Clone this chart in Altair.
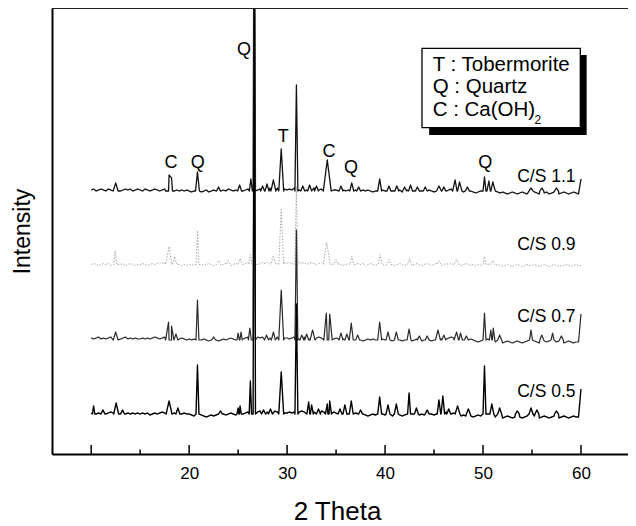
import altair as alt
import pandas as pd

FONT = "Liberation Sans"

# 2-theta sampling of the background (degrees)
GRID = [10.0, 10.25, 10.5, 10.75, 11.0, 11.25, 11.5, 11.75, 12.0, 12.25, 12.5, 12.75, 13.0, 13.25, 13.5, 13.75, 14.0, 14.25, 14.5, 14.75,
        15.0, 15.25, 15.5, 15.75, 16.0, 16.25, 16.5, 16.75, 17.0, 17.25, 17.5, 17.75, 18.0, 18.25, 18.5, 18.75, 19.0, 19.25, 19.5, 19.75,
        20.0, 20.25, 20.5, 20.75, 21.0, 21.25, 21.5, 21.75, 22.0, 22.25, 22.5, 22.75, 23.0, 23.25, 23.5, 23.75, 24.0, 24.25, 24.5, 24.75,
        25.0, 25.25, 25.5, 25.75, 26.0, 26.25, 26.5, 26.75, 27.0, 27.25, 27.5, 27.75, 28.0, 28.25, 28.5, 28.75, 29.0, 29.25, 29.5, 29.75,
        30.0, 30.25, 30.5, 30.75, 31.0, 31.25, 31.5, 31.75, 32.0, 32.25, 32.5, 32.75, 33.0, 33.25, 33.5, 33.75, 34.0, 34.25, 34.5, 34.75,
        35.0, 35.25, 35.5, 35.75, 36.0, 36.25, 36.5, 36.75, 37.0, 37.25, 37.5, 37.75, 38.0, 38.25, 38.5, 38.75, 39.0, 39.25, 39.5, 39.75,
        40.0, 40.25, 40.5, 40.75, 41.0, 41.25, 41.5, 41.75, 42.0, 42.25, 42.5, 42.75, 43.0, 43.25, 43.5, 43.75, 44.0, 44.25, 44.5, 44.75,
        45.0, 45.25, 45.5, 45.75, 46.0, 46.25, 46.5, 46.75, 47.0, 47.25, 47.5, 47.75, 48.0, 48.25, 48.5, 48.75, 49.0, 49.25, 49.5, 49.75,
        50.0, 50.25, 50.5, 50.75, 51.0, 51.25, 51.5, 51.75, 52.0, 52.25, 52.5, 52.75, 53.0, 53.25, 53.5, 53.75, 54.0, 54.25, 54.5, 54.75,
        55.0, 55.25, 55.5, 55.75, 56.0, 56.25, 56.5, 56.75, 57.0, 57.25, 57.5, 57.75, 58.0, 58.25, 58.5, 58.75, 59.0, 59.25, 59.5, 59.75,
        60.0]

SERIES = ["C/S 1.1", "C/S 0.9", "C/S 0.7", "C/S 0.5"]
OFFSETS = [263, 189.5, 114, 40]

NOISE_11 = [1, 2, 0, 1, 2, 1, 0, 2, 1, 3, 1, 2, 0, 1, 2, 1, 2, 0, 1, 2,
            1, 0, 2, 1, 0, 1, 2, 1, 0, 1, 2, 3, 2, 1, 2, 1, 0, 1, 0, 1,
            0, -1, 0, 1, 0, -1, 0, 1, -1, 0, 1, 0, -1, 0, 1, 0, 2, 1, 0, 1,
            1, 2, 0, 1, 2, 1, 3, 2, 1, 2, 3, 1, 2, 3, 1, 2, 3, 2, 1, 2,
            1, 2, 1, 3, 2, 1, 2, 3, 1, 2, 1, 3, 2, 1, 2, 3, 2, 1, 2, 1,
            1, 0, 2, 1, 0, 1, -1, 0, 1, 0, -1, 1, 0, 1, 0, -1, 0, 1, 0, 1,
            0, -1, 1, 0, -1, 0, 1, -1, 0, 1, 0, -1, 0, -1, 1, 0, -1, 0, 1, 0,
            -1, 0, 1, 0, -1, 0, 1, 2, 1, 2, 1, 0, -1, 0, 1, 0, -1, -2, -1, 0,
            1, 2, 1, 2, 1, 0, -1, -2, -1, -2, -3, -2, -1, -2, -3, -2, -1, -2, -3, -1,
            -2, -1, -2, -3, -1, -2, -1, -3, -2, -1, -2, -3, -2, -1, -2, -3, -2, -1, -2, -3,
            12]
NOISE_09 = [0, 1, 0, -1, 0, 1, 0, 1, -1, 0, 1, 0, 0, 1, -1, 0, 1, 0, -1, 0,
            0, 1, 0, -1, 0, 1, 0, 1, 2, 1, 2, 3, 2, 1, 2, 1, 0, -1, 0, -1,
            0, -1, 0, 1, -1, 0, -1, 0, 1, 0, -1, 0, 1, -1, 0, 1, 0, -1, 0, 1,
            0, 1, 0, 1, 2, 1, 2, 1, 0, 1, 2, 1, 2, 1, 2, 3, 1, 2, 1, 2,
            1, 2, 1, 0, 1, 2, 1, 2, 0, 1, 2, 1, 0, 1, 2, 1, 2, 1, 0, 1,
            0, 1, 0, -1, 0, 1, 0, -1, 0, 1, 0, 1, -1, 0, 1, 0, -1, 0, 1, 0,
            -1, 0, 1, 0, -1, 0, 1, 0, -1, 0, 1, -1, 0, 1, 0, -1, 0, 1, 0, -1,
            0, 1, 0, -1, 0, 1, 0, 1, 0, 1, 0, -1, 0, 1, 0, -1, 0, -1, 0, -1,
            0, 1, 0, 1, 0, -1, 0, -1, -2, -1, 0, -1, -2, -1, 0, -1, -2, -1, 0, -1,
            -1, 0, -1, -2, -1, 0, -1, -2, -1, 0, -1, -2, -1, -1, 0, -1, -2, -1, 0, -1,
            -1]
NOISE_07 = [2, 1, 2, 3, 1, 2, 1, 2, 3, 2, 1, 2, 1, 2, 3, 1, 2, 1, 2, 1,
            1, 2, 1, 2, 1, 2, 3, 2, 1, 2, 3, 4, 3, 2, 3, 2, 1, 2, 1, 0,
            1, 0, 1, 0, -1, 0, 1, 0, -1, 0, 1, 0, -1, 0, 1, 0, 1, 2, 1, 0,
            1, 2, 1, 2, 3, 2, 1, 2, 3, 2, 3, 2, 1, 2, 3, 2, 3, 2, 1, 2,
            2, 1, 2, 3, 2, 1, 2, 3, 2, 1, 2, 3, 2, 3, 2, 1, 2, 3, 2, 1,
            2, 1, 2, 1, 0, 1, 2, 1, 0, 1, 0, -1, 0, 1, 0, 1, 0, 1, 2, 1,
            0, 1, 0, -1, 0, 1, 0, -1, 0, 1, 0, -1, 0, 1, 0, -1, 0, 1, 0, -1,
            0, 1, 2, 1, 0, 1, 2, 3, 2, 1, 2, 1, 0, -1, 0, 1, 0, -1, -2, -1,
            1, 2, 1, 0, -1, -2, -1, -2, -3, -2, -1, -2, -3, -2, -1, -2, -3, -2, -1, -2,
            -2, -1, -2, -3, -2, -1, -2, -1, -2, -3, -2, -1, -2, -3, -2, -1, -2, -3, -2, -2,
            26]
NOISE_05 = [1, 2, 0, 1, 2, 1, 0, 1, 2, 1, 0, 1, 2, 1, 0, 1, 0, 1, 0, 1,
            0, 1, 0, 1, -1, 0, 1, 0, 1, 2, 1, 2, 3, 2, 1, 2, 1, 0, 1, 0,
            0, -1, -2, -1, -2, -1, -2, -3, -2, -1, -2, -1, -2, -1, 0, -1, 0, 1, 0, -1,
            0, 1, 0, 1, 2, 1, 2, 1, 2, 3, 2, 1, 2, 1, 2, 3, 2, 1, 2, 1,
            1, 2, 1, 2, 1, 2, 3, 2, 1, 2, 1, 2, 1, 2, 3, 2, 1, 2, 1, 2,
            1, 0, 1, 2, 1, 0, -1, 0, 1, 0, -1, 0, -1, -2, -1, 0, -1, 0, 1, 0,
            -1, 0, -1, -2, -1, 0, -1, -2, -1, 0, -1, 0, -1, -2, -1, 0, -1, -2, -1, 0,
            -1, 0, 1, 0, 1, 2, 1, 0, 1, 0, -1, -2, -1, -2, -1, -2, -3, -2, -1, -2,
            0, 1, 0, -1, -2, -3, -2, -3, -4, -3, -2, -3, -4, -3, -2, -3, -4, -3, -2, -3,
            -3, -2, -3, -4, -3, -2, -3, -4, -3, -2, -3, -4, -3, -2, -3, -4, -3, -2, -3, -3,
            25]

# peaks: (2-theta, height above background, half width at foot)
PEAKS_11 = [(12.5, 8, 0.25), (17.95, 16, 0.35), (18.2, 13, 0.3), (20.85, 19, 0.2),
            (23.0, 4, 0.2), (25.15, 6, 0.2), (26.3, 12, 0.15), (26.65, 420, 0.12),
            (27.5, 5, 0.2), (27.95, 7, 0.2), (28.6, 11, 0.25), (29.4, 42, 0.25),
            (30.95, 106, 0.15), (31.6, 5, 0.2), (32.3, 6, 0.2), (33.0, 5, 0.2),
            (34.1, 31, 0.4), (35.5, 5, 0.2), (36.6, 8, 0.2), (37.3, 4, 0.2),
            (39.45, 12, 0.2), (40.4, 5, 0.2), (41.2, 5, 0.2), (42.0, 4, 0.2),
            (42.6, 6, 0.2), (43.3, 4, 0.2), (44.1, 4, 0.2), (45.5, 5, 0.25),
            (46.0, 4, 0.2), (47.15, 11, 0.25), (47.6, 9, 0.25), (48.4, 4, 0.2),
            (50.15, 14, 0.15), (50.6, 10, 0.2), (51.0, 9, 0.25), (54.9, 3, 0.2),
            (56.0, 3, 0.2), (57.5, 3, 0.2)]
PEAKS_09 = [(12.45, 14, 0.15), (17.95, 18, 0.35), (18.5, 8, 0.25), (20.85, 34, 0.15),
            (23.0, 4, 0.2), (24.0, 4, 0.2), (25.2, 6, 0.2), (26.25, 10, 0.15),
            (26.65, 420, 0.12), (28.6, 9, 0.25), (29.4, 55, 0.25), (30.95, 78, 0.15),
            (34.05, 22, 0.35), (35.0, 5, 0.2), (36.6, 8, 0.2), (39.5, 10, 0.2),
            (40.4, 5, 0.2), (42.5, 6, 0.2), (45.5, 4, 0.2), (47.3, 5, 0.25),
            (50.15, 8, 0.15), (51.0, 4, 0.2)]
PEAKS_07 = [(12.5, 8, 0.25), (17.9, 18, 0.3), (18.2, 14, 0.25), (18.65, 6, 0.2),
            (20.85, 40, 0.15), (22.5, 3, 0.2), (25.0, 7, 0.12), (25.3, 8, 0.12),
            (26.2, 12, 0.15), (26.65, 420, 0.12), (27.9, 5, 0.2), (28.6, 8, 0.2),
            (29.4, 50, 0.25), (30.95, 110, 0.15), (31.5, 5, 0.2), (32.0, 6, 0.2),
            (32.6, 10, 0.25), (34.0, 27, 0.25), (34.35, 26, 0.25), (35.5, 7, 0.2),
            (36.1, 6, 0.2), (36.55, 17, 0.2), (37.2, 5, 0.2), (39.45, 18, 0.2),
            (40.3, 8, 0.2), (41.15, 8, 0.2), (42.45, 11, 0.2), (43.5, 4, 0.2),
            (44.3, 4, 0.2), (45.4, 10, 0.25), (46.0, 5, 0.2), (47.3, 8, 0.25),
            (47.7, 7, 0.2), (48.3, 4, 0.2), (50.15, 27, 0.15), (50.8, 10, 0.15),
            (51.05, 12, 0.15), (51.7, 5, 0.2), (54.9, 10, 0.15), (56.0, 5, 0.2),
            (57.1, 7, 0.15), (58.0, 4, 0.2)]
PEAKS_05 = [(10.25, 8, 0.12), (11.2, 4, 0.2), (12.55, 11, 0.25), (13.2, 4, 0.2),
            (17.95, 13, 0.3), (18.85, 6, 0.2), (20.85, 49, 0.15), (23.2, 3, 0.2),
            (25.0, 6, 0.12), (25.2, 8, 0.12), (26.25, 33, 0.12), (26.65, 420, 0.12),
            (27.6, 4, 0.2), (28.3, 5, 0.2), (29.4, 42, 0.25), (30.95, 110, 0.15),
            (32.2, 12, 0.18), (32.5, 9, 0.18), (33.2, 5, 0.2), (34.1, 10, 0.18),
            (34.35, 13, 0.18), (35.4, 5, 0.2), (35.9, 9, 0.2), (36.55, 13, 0.2),
            (37.5, 4, 0.2), (39.45, 17, 0.2), (40.3, 9, 0.2), (41.15, 10, 0.2),
            (42.45, 21, 0.15), (43.2, 6, 0.2), (44.3, 4, 0.2), (45.5, 14, 0.18),
            (45.9, 18, 0.18), (46.5, 5, 0.2), (47.4, 8, 0.25), (48.5, 5, 0.2),
            (50.15, 48, 0.15), (50.9, 10, 0.2), (51.7, 6, 0.2), (53.5, 3, 0.2),
            (54.9, 6, 0.2), (55.5, 4, 0.2), (57.5, 3, 0.2)]

NOISES = [NOISE_11, NOISE_09, NOISE_07, NOISE_05]
PEAKS = [PEAKS_11, PEAKS_09, PEAKS_07, PEAKS_05]
COLORS = ["#111111", "#a8a8a8", "#2a2a2a", "#000000"]
WIDTHS = [1.3, 1.0, 1.2, 1.4]
DASHES = [[1, 0], [1.5, 1.5], [1, 0], [1, 0]]

# annotations
PEAK_LABELS = ["Q", "C", "Q", "T", "C", "Q", "Q"]
PEAK_LABEL_X = [25.6, 18.15, 20.87, 29.61, 34.28, 36.52, 50.23]
PEAK_LABEL_Y = [404, 291, 291, 317, 302, 286, 291]

SERIES_LABEL_X = 59.45
SERIES_LABEL_Y = [277.3, 209, 137.3, 62.3]

LEGEND_LINES = ["T : Tobermorite", "Q : Quartz", "C : Ca(OH)"]
LEGEND_LINE_Y = [389, 366.7, 344]
LEGEND_X = 44.86
LEGEND_SUB = "2"
LEGEND_SUB_X = 55.25
LEGEND_SUB_Y = 334
LEGEND_BOX = [43.77, 59.93, 405.7, 326.3]
LEGEND_SHADOW = [44.5, 60.58, 399, 319]

MAJOR_TICKS = [10, 20, 30, 40, 50, 60]
MINOR_TICKS = [15, 25, 35, 45, 55]
X_LABELS = [20, 30, 40, 50, 60]

X_DOMAIN = [6, 64.8]
Y_DOMAIN = [0, 446]
W, H = 576, 446

xs = alt.Scale(domain=X_DOMAIN, nice=False, zero=False)
ys = alt.Scale(domain=Y_DOMAIN, nice=False, zero=False)
XAX = alt.Axis(values=X_LABELS, ticks=False, grid=False,
               domainColor="black", domainWidth=2, labelFontSize=17,
               labelFont=FONT, labelColor="black", labelPadding=11,
               title="2 Theta", titleFont=FONT, titleFontSize=26,
               titleFontWeight="normal", titleColor="black", titlePadding=17,
               titleX=285)
YAX = alt.Axis(labels=False, ticks=False, grid=False, domainColor="black",
               domainWidth=2, title="Intensity", titleFont=FONT,
               titleFontSize=23, titleFontWeight="normal",
               titleColor="black", titlePadding=18)


def X(f):
    return alt.X(f, scale=xs, axis=XAX)


def Y(f):
    return alt.Y(f, scale=ys, axis=YAX)


def build(noise, peaks, offset):
    pts = []
    for x, n in zip(GRID, noise):
        if any(p - hw - 0.03 <= x <= p + hw + 0.03 for p, h, hw in peaks):
            continue
        pts.append((x, offset + n))
    for p, h, hw in peaks:
        pts += [(p - hw, offset), (p, offset + h), (p + hw, offset)]
    pts.sort()
    return pd.DataFrame({"theta": [a for a, b in pts], "inten": [b for a, b in pts],
                         "ord": list(range(len(pts)))})


layers = []
for name, noise, peaks, off, col, wd, dash in zip(SERIES, NOISES, PEAKS, OFFSETS, COLORS, WIDTHS, DASHES):
    df = build(noise, peaks, off)
    layers.append(
        alt.Chart(df).mark_line(clip=True, color=col, strokeWidth=wd, strokeDash=dash,
                                strokeJoin="round")
        .encode(x=X("theta:Q"), y=Y("inten:Q"), order="ord:Q")
    )

# tick marks pointing inward
for ticks, ln in [(MAJOR_TICKS, 9), (MINOR_TICKS, 4.5)]:
    layers.append(
        alt.Chart(pd.DataFrame({"theta": ticks})).mark_rule(color="black", strokeWidth=1.5)
        .encode(x=X("theta:Q"), y=alt.value(H), y2=alt.value(H - ln))
    )

# top frame line
layers.append(
    alt.Chart(pd.DataFrame({"a": [0]})).mark_rule(color="#222222", strokeWidth=2)
    .encode(x=alt.value(0), x2=alt.value(W), y=alt.value(0))
)

# peak labels
layers.append(
    alt.Chart(pd.DataFrame({"t": PEAK_LABELS, "theta": PEAK_LABEL_X, "inten": PEAK_LABEL_Y}))
    .mark_text(font=FONT, fontSize=18, color="black", align="center", baseline="middle")
    .encode(x=X("theta:Q"), y=Y("inten:Q"), text="t:N")
)

# series labels
layers.append(
    alt.Chart(pd.DataFrame({"t": SERIES, "theta": [SERIES_LABEL_X] * 4, "inten": SERIES_LABEL_Y}))
    .mark_text(font=FONT, fontSize=17.5, color="black", align="right", baseline="middle")
    .encode(x=X("theta:Q"), y=Y("inten:Q"), text="t:N")
)

# legend box with shadow
layers.append(
    alt.Chart(pd.DataFrame({"theta": [LEGEND_SHADOW[0]], "x2": [LEGEND_SHADOW[1]],
                            "inten": [LEGEND_SHADOW[2]], "y2": [LEGEND_SHADOW[3]]}))
    .mark_rect(color="black")
    .encode(x=X("theta:Q"), x2="x2:Q", y=Y("inten:Q"), y2="y2:Q")
)
layers.append(
    alt.Chart(pd.DataFrame({"theta": [LEGEND_BOX[0]], "x2": [LEGEND_BOX[1]],
                            "inten": [LEGEND_BOX[2]], "y2": [LEGEND_BOX[3]]}))
    .mark_rect(fill="white", stroke="black", strokeWidth=1.3)
    .encode(x=X("theta:Q"), x2="x2:Q", y=Y("inten:Q"), y2="y2:Q")
)
layers.append(
    alt.Chart(pd.DataFrame({"t": LEGEND_LINES, "theta": [LEGEND_X] * 3, "inten": LEGEND_LINE_Y}))
    .mark_text(font=FONT, fontSize=20.5, color="black", align="left", baseline="middle")
    .encode(x=X("theta:Q"), y=Y("inten:Q"), text="t:N")
)
layers.append(
    alt.Chart(pd.DataFrame({"t": [LEGEND_SUB], "theta": [LEGEND_SUB_X], "inten": [LEGEND_SUB_Y]}))
    .mark_text(font=FONT, fontSize=12, color="black", align="left", baseline="middle")
    .encode(x=X("theta:Q"), y=Y("inten:Q"), text="t:N")
)

chart = (
    alt.layer(*layers)
    .properties(width=W, height=H, autosize="none",
                padding={"left": 44, "top": 0, "right": 0, "bottom": 72})
    .configure_view(stroke=None)
    .configure(background="white")
)

chart.save("out.html", embed_options={"renderer": "svg", "actions": False})
